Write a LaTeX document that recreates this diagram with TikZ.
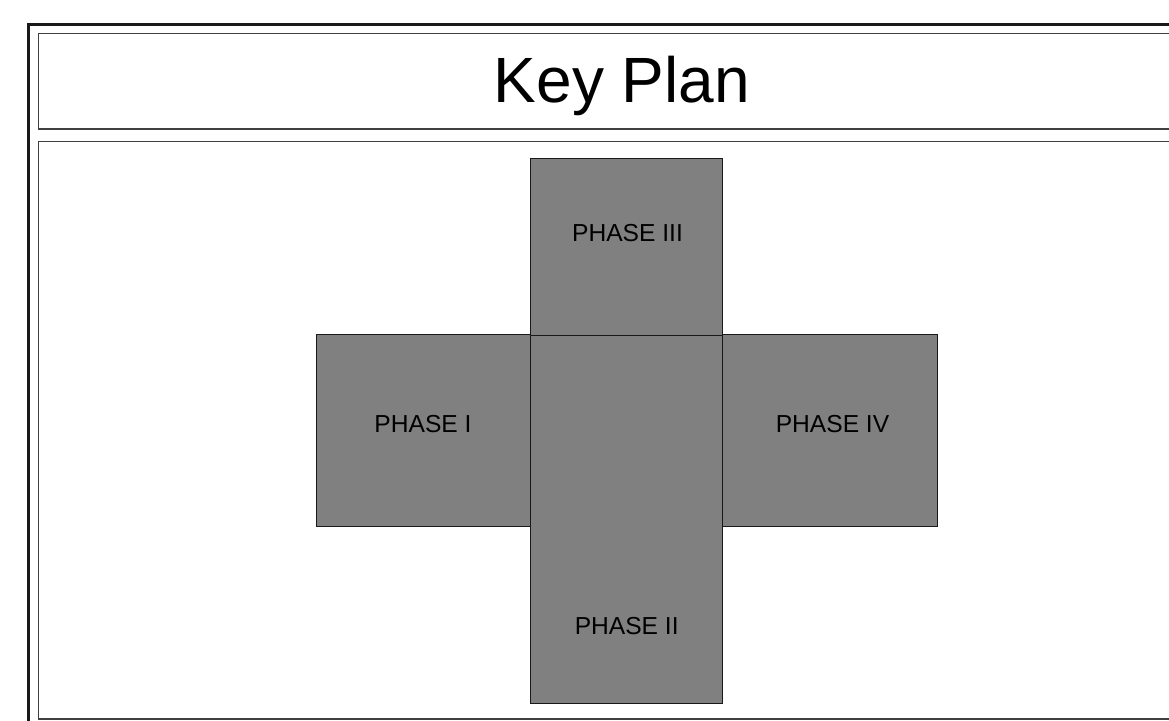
\documentclass[tikz,border=0pt]{standalone}
\usepackage{fontspec}
\setmainfont{Liberation Sans}
\begin{document}
\begin{tikzpicture}[x=1pt,y=-1pt,
  frameline/.style={draw=black!75, line width=1.2pt},
  outerline/.style={draw=black!90, line width=3pt},
  phasebox/.style={fill=black!50, draw=black!90, line width=1pt},
  phaselabel/.style={anchor=base, inner sep=0pt, font=\fontsize{24.6}{28}\selectfont, text=black},
  titlelabel/.style={anchor=base, inner sep=0pt, font=\fontsize{64}{70}\selectfont, text=black}]
\useasboundingbox (0,0) rectangle (1169,720);
\clip (0,0) rectangle (1169,720);
% outer border
\draw[outerline] (28.8,24) rectangle (1200,760);
% title box and plan box
\draw[frameline] (38.5,33.5) rectangle (1200,129);
\draw[frameline] (38.5,141.5) rectangle (1200,719);
\node[titlelabel] (title) at (622,102) {Key Plan};
% phases
\draw[phasebox] (530.3,335) rectangle (722.7,703.3);
\draw[phasebox] (530.3,158.3) rectangle (722.7,335);
\draw[phasebox] (316,334.3) rectangle (530.8,526.7);
\draw[phasebox] (722.3,334.3) rectangle (937.7,526.7);
\node[phaselabel] (p3) at (627.5,241.7) {PHASE III};
\node[phaselabel] (p1) at (423,432.3) {PHASE I};
\node[phaselabel] (p4) at (832.5,432.7) {PHASE IV};
\node[phaselabel] (p2) at (626.7,634.3) {PHASE II};
\end{tikzpicture}
\end{document}
